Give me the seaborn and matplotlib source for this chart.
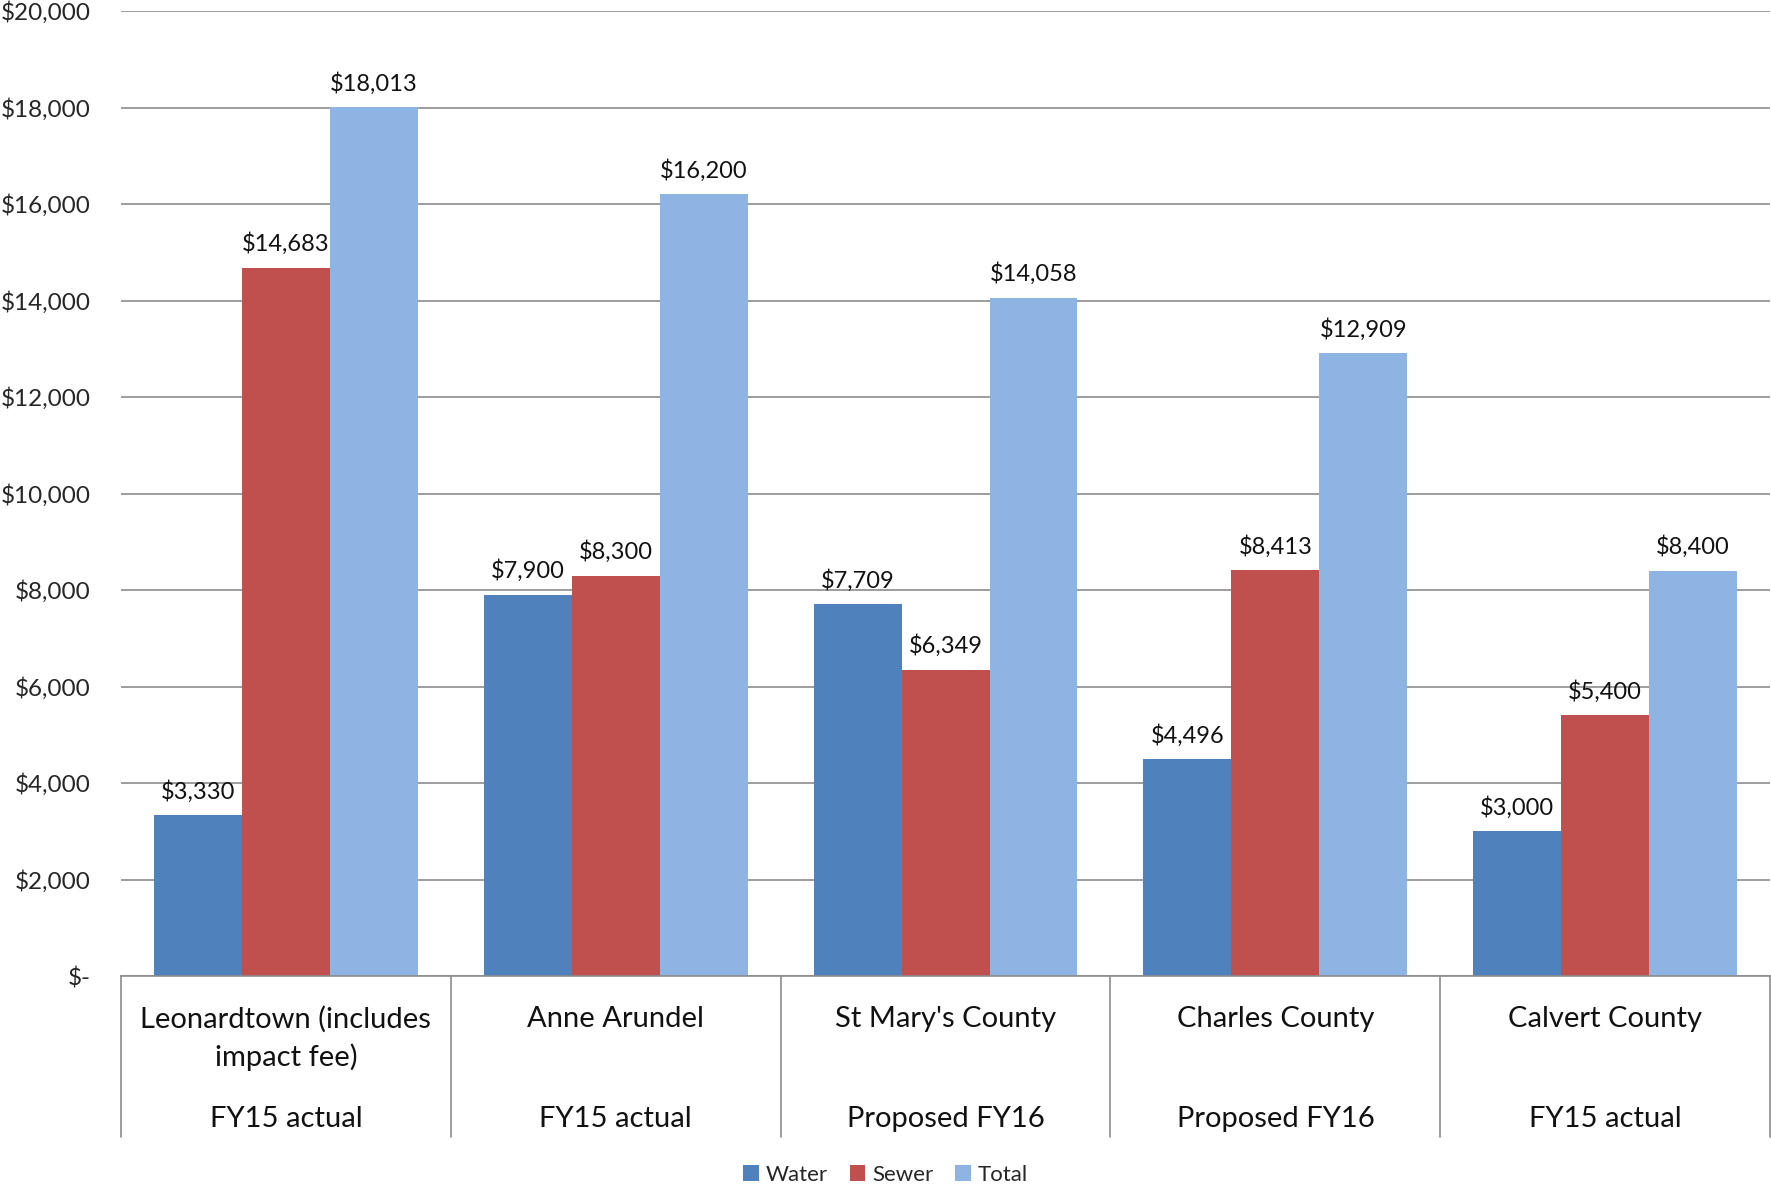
import matplotlib
matplotlib.use("Agg")
import matplotlib.pyplot as plt
import matplotlib.transforms as mtransforms
import seaborn as sns
import pandas as pd

# Utility connection fees by jurisdiction
jurisdictions = [
    "Leonardtown (includes\nimpact fee)",
    "Anne Arundel",
    "St Mary's County",
    "Charles County",
    "Calvert County",
]
fee_basis = ["FY15 actual", "FY15 actual", "Proposed FY16", "Proposed FY16", "FY15 actual"]
series = ["Water", "Sewer", "Total"]
water = [3330, 7900, 7709, 4496, 3000]
sewer = [14683, 8300, 6349, 8413, 5400]
total = [18013, 16200, 14058, 12909, 8400]
y_ticks = list(range(0, 20001, 2000))

colors = ["#4F81BD", "#C0504D", "#8EB4E3"]
grid_color = "#8C8C8C"

df = pd.DataFrame({
    "jurisdiction": jurisdictions * 3,
    "series": [s for s in series for _ in jurisdictions],
    "fee": water + sewer + total,
})

sns.set_theme(style="white")
plt.rcParams["font.family"] = ["Lato", "DejaVu Sans"]

fig = plt.figure(figsize=(17.71, 11.87), dpi=100)
ax = fig.add_axes([121 / 1771, 1 - 976 / 1187, 1 - 121 / 1771 - 0.0005, (976 - 11) / 1187])

sns.barplot(data=df, x="jurisdiction", y="fee", hue="series", order=jurisdictions,
            hue_order=series, palette=colors, width=0.8, saturation=1,
            edgecolor="none", linewidth=0, ax=ax, legend=True)

ax.set_xlim(-0.5, len(jurisdictions) - 0.5)
ax.set_ylim(0, 20000)
ax.set_yticks(y_ticks)
ax.set_yticklabels(["\\$-" if v == 0 else "\\${:,}".format(v) for v in y_ticks], fontsize=17.5)
ax.tick_params(axis="y", length=0, pad=22)
ax.set_xticks([])
ax.set_xlabel("")
ax.set_ylabel("")
ax.yaxis.grid(True, color=grid_color, linewidth=1.2)
ax.set_axisbelow(True)
for side in ["left", "right", "top"]:
    ax.spines[side].set_visible(False)
ax.spines["bottom"].set_color(grid_color)
ax.spines["bottom"].set_linewidth(1.2)

# Value labels above each bar
for container, vals in zip(ax.containers, [water, sewer, total]):
    ax.bar_label(container, labels=["\\${:,}".format(v) for v in vals],
                 padding=9, fontsize=17, color="#111111")

# Two-level category axis below the plot
trans = mtransforms.blended_transform_factory(ax.transData, fig.transFigure)
for i, (name, basis) in enumerate(zip(jurisdictions, fee_basis)):
    ax.text(i, 1 - 1006 / 1187, name, transform=trans, ha="center", va="top",
            fontsize=21, linespacing=1.45, color="#111111")
    ax.text(i, 1 - 1119 / 1187, basis, transform=trans, ha="center", va="center",
            fontsize=21, color="#111111")
for xb in [i - 0.5 for i in range(len(jurisdictions) + 1)]:
    ax.plot([xb, xb], [1 - 976 / 1187, 1 - 1137 / 1187], transform=trans,
            color=grid_color, linewidth=1.2, clip_on=False)

handles, labels = ax.get_legend_handles_labels()
ax.legend_.remove()
fig.legend(handles, labels, loc="center", bbox_to_anchor=(0.5, 1 - 1175 / 1187),
           ncol=3, frameon=False, fontsize=16, handlelength=0.7, handleheight=0.7,
           handletextpad=0.3, columnspacing=1.0, borderaxespad=0)

fig.savefig("out.png", dpi=100)
